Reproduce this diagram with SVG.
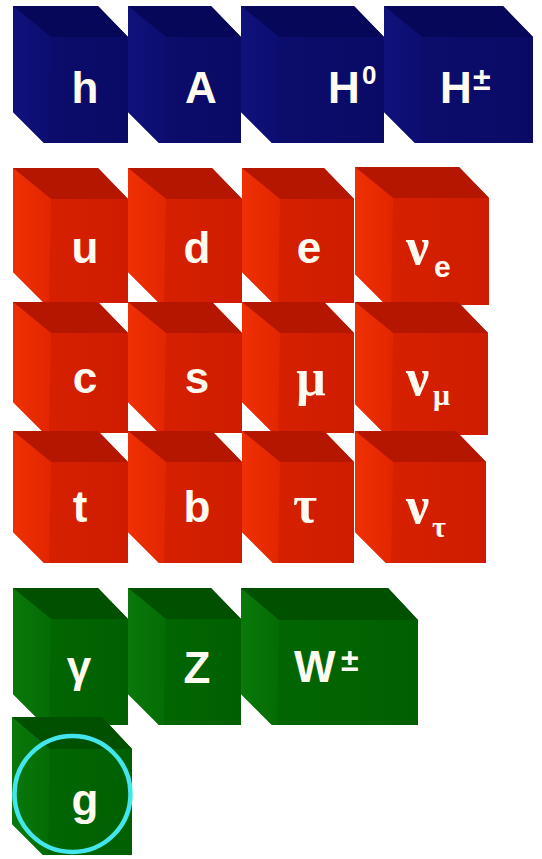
<svg xmlns="http://www.w3.org/2000/svg" width="542" height="859" viewBox="0 0 542 859">
<defs>
<linearGradient id="gRedL" x1="0" y1="0" x2="1" y2="0"><stop offset="0" stop-color="#f03004"/><stop offset="1" stop-color="#e22600"/></linearGradient>
<linearGradient id="gRedF" x1="0" y1="0" x2="1" y2="0"><stop offset="0" stop-color="#d92200"/><stop offset="1" stop-color="#cf1c00"/></linearGradient>
<linearGradient id="gBluL" x1="0" y1="0" x2="1" y2="0"><stop offset="0" stop-color="#10127c"/><stop offset="1" stop-color="#0c0d70"/></linearGradient>
<linearGradient id="gBluF" x1="0" y1="0" x2="1" y2="0"><stop offset="0" stop-color="#0c0d6e"/><stop offset="1" stop-color="#0a0a66"/></linearGradient>
<linearGradient id="gGrnL" x1="0" y1="0" x2="1" y2="0"><stop offset="0" stop-color="#0a780a"/><stop offset="1" stop-color="#046c04"/></linearGradient>
<linearGradient id="gGrnF" x1="0" y1="0" x2="1" y2="0"><stop offset="0" stop-color="#026802"/><stop offset="1" stop-color="#006000"/></linearGradient>
</defs>
<style>
.rf{fill:url(#gRedF)} .rt{fill:#b51600} .rl{fill:url(#gRedL)}
.bf{fill:url(#gBluF)} .bt{fill:#07075a} .bl{fill:url(#gBluL)}
.gf{fill:url(#gGrnF)} .gt{fill:#005000} .gl{fill:url(#gGrnL)}
.lab{font-family:"Liberation Sans",Arial,sans-serif;font-weight:bold;font-size:44px;fill:#fffbf0;text-anchor:middle}
.gr{font-family:"Liberation Serif","Times New Roman",serif;font-weight:bold;font-size:52px;fill:#fffbf0}
.sup{font-size:26px}
.pm{font-size:32px}
.sub{font-size:30px}
</style>
<rect width="542" height="859" fill="#ffffff"/>

<!-- Higgs row (blue) -->
<g id="node-h">
<path class="bf" d="M13,6 H98 L128,37 V143 H44 L13,112 Z"/>
<path class="bt" d="M13,6 H98 L128,37 H51 Z"/>
<path class="bl" d="M13,6 L51,37 L49,143 H44 L13,112 Z"/>
<text class="lab" x="85" y="103">h</text>
</g>
<g id="node-A">
<path class="bf" d="M128,6 H211 L241,37 V143 H159 L128,112 Z"/>
<path class="bt" d="M128,6 H211 L241,37 H166 Z"/>
<path class="bl" d="M128,6 L166,37 L164,143 H159 L128,112 Z"/>
<text class="lab" x="201" y="103">A</text>
</g>
<g id="node-H0">
<path class="bf" d="M241,6 H354 L384,37 V143 H272 L241,112 Z"/>
<path class="bt" d="M241,6 H354 L384,37 H279 Z"/>
<path class="bl" d="M241,6 L279,37 L277,143 H272 L241,112 Z"/>
<text class="lab" style="text-anchor:start" x="328" y="103">H<tspan class="sup" x="362" y="84">0</tspan></text>
</g>
<g id="node-Hpm">
<path class="bf" d="M384,6 H503 L533,37 V143 H415 L384,112 Z"/>
<path class="bt" d="M384,6 H503 L533,37 H422 Z"/>
<path class="bl" d="M384,6 L422,37 L420,143 H415 L384,112 Z"/>
<text class="lab" style="text-anchor:start" x="440" y="103">H<tspan class="pm" x="473" y="90">±</tspan></text>
</g>

<!-- Fermions row 1 -->
<g id="node-u">
<path class="rf" d="M13,168 H98 L128,199 V303 H44 L13,272 Z"/>
<path class="rt" d="M13,168 H98 L128,199 H51 Z"/>
<path class="rl" d="M13,168 L51,199 L49,303 H44 L13,272 Z"/>
<text class="lab" x="85" y="263">u</text>
</g>
<g id="node-d">
<path class="rf" d="M128,168 H212 L242,199 V303 H159 L128,272 Z"/>
<path class="rt" d="M128,168 H212 L242,199 H166 Z"/>
<path class="rl" d="M128,168 L166,199 L164,303 H159 L128,272 Z"/>
<text class="lab" x="197" y="263">d</text>
</g>
<g id="node-e">
<path class="rf" d="M242,168 H324 L354,199 V303 H273 L242,272 Z"/>
<path class="rt" d="M242,168 H324 L354,199 H280 Z"/>
<path class="rl" d="M242,168 L280,199 L278,303 H273 L242,272 Z"/>
<text class="lab" x="309" y="263">e</text>
</g>
<g id="node-nue">
<path class="rf" d="M355,167 H459 L489,198 V305 H386 L355,274 Z"/>
<path class="rt" d="M355,167 H459 L489,198 H393 Z"/>
<path class="rl" d="M355,167 L393,198 L391,305 H386 L355,274 Z"/>
<text class="gr" x="406" y="264">ν<tspan class="lab sub" style="text-anchor:start" x="434" y="277">e</tspan></text>
</g>

<!-- Fermions row 2 -->
<g id="node-c">
<path class="rf" d="M13,302 H98 L128,333 V433 H44 L13,402 Z"/>
<path class="rt" d="M13,302 H98 L128,333 H51 Z"/>
<path class="rl" d="M13,302 L51,333 L49,433 H44 L13,402 Z"/>
<text class="lab" x="85" y="393">c</text>
</g>
<g id="node-s">
<path class="rf" d="M128,302 H212 L242,333 V433 H159 L128,402 Z"/>
<path class="rt" d="M128,302 H212 L242,333 H166 Z"/>
<path class="rl" d="M128,302 L166,333 L164,433 H159 L128,402 Z"/>
<text class="lab" x="197" y="393">s</text>
</g>
<g id="node-mu">
<path class="rf" d="M242,302 H324 L354,333 V433 H273 L242,402 Z"/>
<path class="rt" d="M242,302 H324 L354,333 H280 Z"/>
<path class="rl" d="M242,302 L280,333 L278,433 H273 L242,402 Z"/>
<text class="gr" x="311" y="395" style="text-anchor:middle">μ</text>
</g>
<g id="node-numu">
<path class="rf" d="M355,302 H458 L488,333 V435 H386 L355,404 Z"/>
<path class="rt" d="M355,302 H458 L488,333 H393 Z"/>
<path class="rl" d="M355,302 L393,333 L391,435 H386 L355,404 Z"/>
<text class="gr" x="406" y="395">ν<tspan class="sub" x="433" y="405">μ</tspan></text>
</g>

<!-- Fermions row 3 -->
<g id="node-t">
<path class="rf" d="M13,431 H98 L128,462 V563 H44 L13,532 Z"/>
<path class="rt" d="M13,431 H98 L128,462 H51 Z"/>
<path class="rl" d="M13,431 L51,462 L49,563 H44 L13,532 Z"/>
<text class="lab" x="80" y="522">t</text>
</g>
<g id="node-b">
<path class="rf" d="M128,431 H212 L242,462 V563 H159 L128,532 Z"/>
<path class="rt" d="M128,431 H212 L242,462 H166 Z"/>
<path class="rl" d="M128,431 L166,462 L164,563 H159 L128,532 Z"/>
<text class="lab" x="197" y="522">b</text>
</g>
<g id="node-tau">
<path class="rf" d="M242,431 H324 L354,462 V563 H273 L242,532 Z"/>
<path class="rt" d="M242,431 H324 L354,462 H280 Z"/>
<path class="rl" d="M242,431 L280,462 L278,563 H273 L242,532 Z"/>
<text class="gr" x="305" y="522" style="text-anchor:middle">τ</text>
</g>
<g id="node-nutau">
<path class="rf" d="M355,431 H456 L486,462 V563 H386 L355,532 Z"/>
<path class="rt" d="M355,431 H456 L486,462 H393 Z"/>
<path class="rl" d="M355,431 L393,462 L391,563 H386 L355,532 Z"/>
<text class="gr" x="406" y="523">ν<tspan class="sub" x="432" y="537">τ</tspan></text>
</g>

<!-- Gauge bosons (green) -->
<g id="node-gamma">
<path class="gf" d="M13,588 H98 L128,619 V725 H44 L13,694 Z"/>
<path class="gt" d="M13,588 H98 L128,619 H51 Z"/>
<path class="gl" d="M13,588 L51,619 L49,725 H44 L13,694 Z"/>
<text class="lab" x="79" y="682">γ</text>
</g>
<g id="node-Z">
<path class="gf" d="M128,588 H211 L241,619 V725 H159 L128,694 Z"/>
<path class="gt" d="M128,588 H211 L241,619 H166 Z"/>
<path class="gl" d="M128,588 L166,619 L164,725 H159 L128,694 Z"/>
<text class="lab" x="197" y="683">Z</text>
</g>
<g id="node-Wpm">
<path class="gf" d="M241,588 H388 L418,620 V725 H272 L241,694 Z"/>
<path class="gt" d="M241,588 H388 L418,620 H279 Z"/>
<path class="gl" d="M241,588 L279,620 L277,725 H272 L241,694 Z"/>
<text class="lab" style="text-anchor:start" x="294" y="682">W<tspan class="pm" x="341" y="671">±</tspan></text>
</g>
<g id="node-g">
<path class="gf" d="M12,717 H102 L132,749 V855 H43 L12,824 Z"/>
<path class="gt" d="M12,717 H102 L132,749 H50 Z"/>
<path class="gl" d="M12,717 L50,749 L48,855 H43 L12,824 Z"/>
<text class="lab" x="85" y="815">g</text>
</g>

<g id="connectors"></g>

<g id="highlight">
<circle cx="72.5" cy="794" r="58" fill="none" stroke="#44e6ee" stroke-width="4.5"/>
</g>
</svg>
